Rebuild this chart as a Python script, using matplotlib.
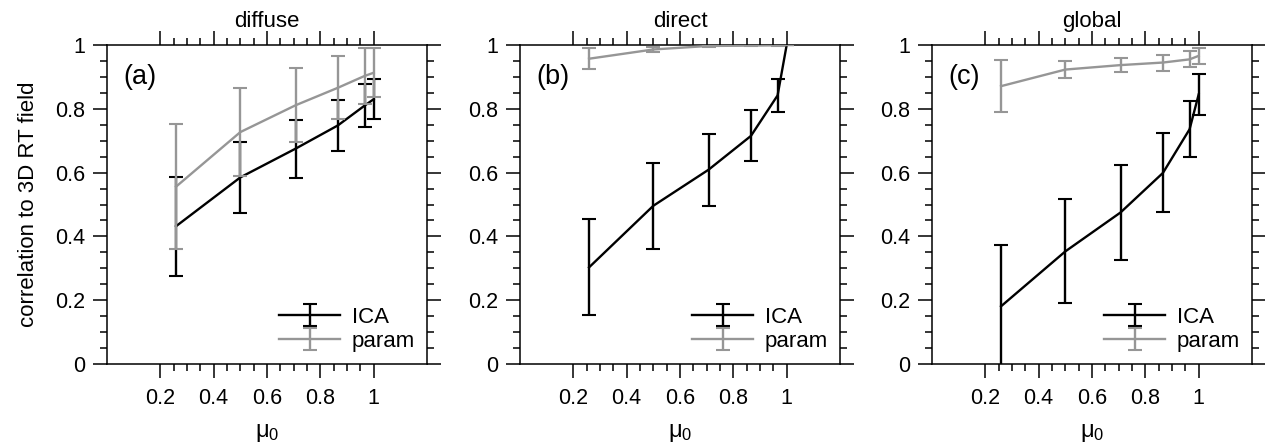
import numpy as np
import matplotlib
matplotlib.use('Agg')
import matplotlib.pyplot as plt
from matplotlib.ticker import FixedLocator

plt.rcParams['font.family'] = ['Liberation Sans', 'DejaVu Sans']
plt.rcParams['mathtext.fontset'] = 'custom'
plt.rcParams['mathtext.rm'] = 'Liberation Sans'

# cosine of solar zenith angle
mu0 = [0.259, 0.5, 0.707, 0.866, 0.966, 1.0]

diffuse_ica = [0.432, 0.585, 0.675, 0.748, 0.810, 0.830]
diffuse_ica_err = [0.155, 0.112, 0.091, 0.079, 0.067, 0.062]
diffuse_param = [0.556, 0.727, 0.811, 0.866, 0.903, 0.913]
diffuse_param_err = [0.195, 0.137, 0.116, 0.098, 0.087, 0.077]

direct_ica = [0.303, 0.496, 0.609, 0.715, 0.842, 1.0]
direct_ica_err = [0.150, 0.135, 0.113, 0.080, 0.052, 0.0]
direct_param = [0.957, 0.986, 0.997, 0.998, 0.999, 1.0]
direct_param_err = [0.033, 0.008, 0.003, 0.002, 0.001, 0.0]

global_ica = [0.181, 0.353, 0.475, 0.599, 0.736, 0.845]
global_ica_err = [0.193, 0.163, 0.148, 0.124, 0.087, 0.063]
global_param = [0.871, 0.923, 0.937, 0.945, 0.955, 0.966]
global_param_err = [0.082, 0.028, 0.021, 0.025, 0.025, 0.024]

titles = ['diffuse', 'direct', 'global']
letters = ['(a)', '(b)', '(c)']
xticks = [0.2, 0.4, 0.6, 0.8, 1.0]
xticklabels = ['0.2', '0.4', '0.6', '0.8', '1']
yticks = [0, 0.2, 0.4, 0.6, 0.8, 1.0]
yticklabels = ['0', '0.2', '0.4', '0.6', '0.8', '1']

panels = [
    (diffuse_ica, diffuse_ica_err, diffuse_param, diffuse_param_err),
    (direct_ica, direct_ica_err, direct_param, direct_param_err),
    (global_ica, global_ica_err, global_param, global_param_err),
]

W, H = 1265, 445
fig = plt.figure(figsize=(W / 100, H / 100), dpi=100)
lefts = [107, 520, 932]
gray = '#969696'
fs = 16

for i, (ica, ica_e, par, par_e) in enumerate(panels):
    ax = fig.add_axes([lefts[i] / W, (H - 364) / H, 320 / W, 319 / H])
    e1 = ax.errorbar(mu0, ica, yerr=ica_e, color='black', lw=1.7,
                     elinewidth=1.7, capsize=5, capthick=1.5, zorder=2)
    e2 = ax.errorbar(mu0, par, yerr=par_e, color=gray, lw=1.7,
                     elinewidth=1.7, capsize=5, capthick=1.5, zorder=3)
    ax.set_xlim(0, 1.2)
    ax.set_ylim(0, 1)
    ax.xaxis.set_major_locator(FixedLocator(xticks))
    ax.xaxis.set_minor_locator(FixedLocator(np.arange(0.2, 1.001, 0.05)))
    ax.yaxis.set_major_locator(FixedLocator(yticks))
    ax.yaxis.set_minor_locator(FixedLocator(np.arange(0, 1.001, 0.05)))
    ax.set_xticklabels(xticklabels)
    ax.set_yticklabels(yticklabels)
    ax.tick_params(which='both', direction='out', top=True, right=True,
                   width=1.1, labelsize=15.5)
    ax.tick_params(which='major', length=10)
    ax.tick_params(axis='x', which='major', pad=7)
    ax.tick_params(axis='y', which='major', pad=6)
    ax.tick_params(which='minor', length=5)
    for s in ax.spines.values():
        s.set_linewidth(1.1)
    ax.set_title(titles[i], fontsize=fs, pad=13)
    ax.text(0.05, 0.9, letters[i], transform=ax.transAxes, fontsize=19.5,
            ha='left', va='center')
    ax.set_xlabel(r'$\mathregular{\mu_0}$', fontsize=17)
    ax.xaxis.set_label_coords(0.5, -0.215)
    ax.xaxis.label.set_va('center')
    ax.legend([e1, e2], ['ICA', 'param'], loc='lower right', frameon=False,
              fontsize=fs, handlelength=2.75, handletextpad=0.5,
              labelspacing=0.14, borderpad=0.2, borderaxespad=0.35)

fig.text(29 / W, (H - 204) / H, 'correlation to 3D RT field', rotation=90,
         ha='center', va='center', fontsize=fs)

fig.savefig('out.png', dpi=100)
